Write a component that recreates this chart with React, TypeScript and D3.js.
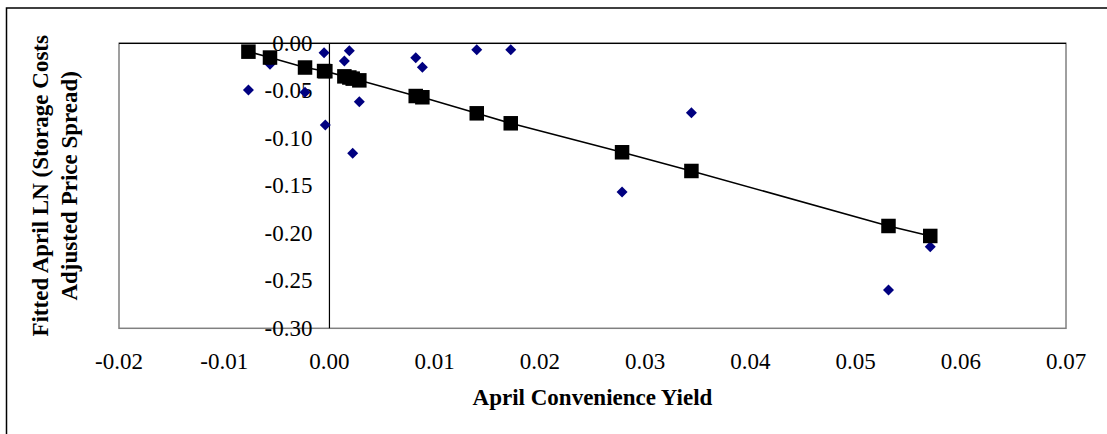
import React from "react";
import * as d3 from "d3";

// Observed (blue diamonds)
const obsX = [-0.0077, -0.00565, -0.00232, -0.00051, -0.00039, 0.00142, 0.00189, 0.00221, 0.00284, 0.0082, 0.00883, 0.014, 0.01723, 0.02781, 0.0344, 0.05313, 0.0571];
const obsY = [-0.0492, -0.0221, -0.0516, -0.0099, -0.086, -0.0186, -0.0078, -0.1158, -0.0615, -0.0152, -0.0253, -0.0067, -0.0067, -0.1565, -0.0731, -0.2597, -0.2141];
// Fitted (black squares)
const fitX = [-0.0077, -0.00565, -0.00232, -0.00051, -0.00039, 0.00142, 0.00189, 0.00221, 0.00284, 0.0082, 0.00883, 0.014, 0.01723, 0.02781, 0.0344, 0.05313, 0.0571];
const fitY = [-0.0088, -0.0150, -0.0255, -0.0292, -0.0294, -0.0348, -0.0360, -0.0372, -0.0390, -0.0555, -0.0568, -0.0737, -0.0842, -0.1147, -0.1344, -0.1923, -0.2028];

const xTicks = [-0.02, -0.01, 0, 0.01, 0.02, 0.03, 0.04, 0.05, 0.06, 0.07];
const yTicks = [0, -0.05, -0.1, -0.15, -0.2, -0.25, -0.3];

const xTitle = "April Convenience Yield";
const yTitle1 = "Fitted April LN (Storage Costs";
const yTitle2 = "Adjusted Price Spread)";

export default function App() {
  const W = 1107, H = 434;
  const left = 119, right = 1066, top = 43.3, bottom = 328.3;
  const x = d3.scaleLinear().domain([-0.02, 0.07]).range([left, right]);
  const y = d3.scaleLinear().domain([-0.3, 0]).range([bottom, top]);
  const fmt = (v: number) => (Math.abs(v) < 1e-9 ? 0 : v).toFixed(2);
  const font = "'Liberation Serif', 'Times New Roman', serif";

  const fitted = fitX.map((v, i) => [v, fitY[i]] as [number, number]).sort((a, b) => a[0] - b[0]);
  const line = d3.line<[number, number]>().x(d => x(d[0])).y(d => y(d[1]));
  const sq = 14.5;
  const dm = 5.5;

  return (
    <svg width={W} height={H} style={{ position: "absolute", left: 0, top: 0, background: "#fff" }} fontFamily={font}>
      <rect x={6.5} y={8} width={1120} height={440} fill="#fff" stroke="#000" strokeWidth={1.5} />
      <rect x={left} y={top} width={right - left} height={bottom - top} fill="#fff" stroke="#808080" strokeWidth={1.5} />
      {/* axes crossing at zero */}
      <line x1={left} x2={right} y1={y(0)} y2={y(0)} stroke="#000" strokeWidth={1.2} />
      <line x1={x(0)} x2={x(0)} y1={top} y2={bottom} stroke="#000" strokeWidth={1.2} />
      {/* y tick labels */}
      {yTicks.map(t => (
        <text key={"y" + t} x={x(0) - 17} y={y(t)} textAnchor="end" dominantBaseline="central" fontSize={23} fill="#000">{fmt(t)}</text>
      ))}
      {/* x tick labels */}
      {xTicks.map(t => (
        <text key={"x" + t} x={x(t)} y={369} textAnchor="middle" fontSize={23} fill="#000">{fmt(t)}</text>
      ))}
      <text x={(left + right) / 2 + 0} y={405} textAnchor="middle" fontSize={23} fontWeight="bold">{xTitle}</text>
      <g transform={`translate(48, ${(top + bottom) / 2}) rotate(-90)`}>
        <text x={0} y={0} textAnchor="middle" fontSize={23} fontWeight="bold">{yTitle1}</text>
      </g>
      <g transform={`translate(77, ${(top + bottom) / 2}) rotate(-90)`}>
        <text x={0} y={0} textAnchor="middle" fontSize={23} fontWeight="bold">{yTitle2}</text>
      </g>
      {/* observed diamonds */}
      {obsX.map((v, i) => {
        const cx = x(v), cy = y(obsY[i]);
        return <path key={"d" + i} d={`M${cx},${cy - dm}L${cx + dm},${cy}L${cx},${cy + dm}L${cx - dm},${cy}Z`} fill="#000080" />;
      })}
      {/* fitted line and squares */}
      <path d={line(fitted) || ""} fill="none" stroke="#000" strokeWidth={1.6} />
      {fitted.map((d, i) => (
        <rect key={"s" + i} x={x(d[0]) - sq / 2} y={y(d[1]) - sq / 2} width={sq} height={sq} fill="#000" />
      ))}
    </svg>
  );
}
